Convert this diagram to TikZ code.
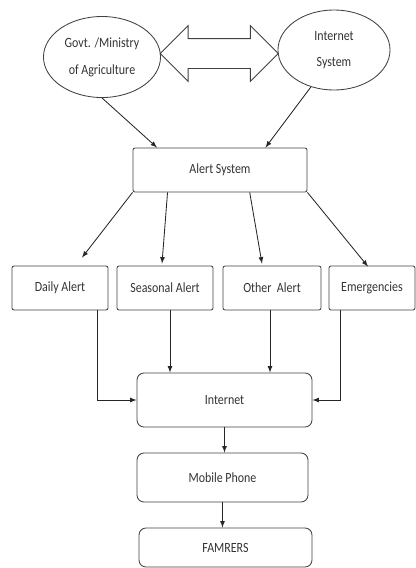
\documentclass[tikz,border=0pt]{standalone}
\usepackage{fontspec}
\setmainfont{Carlito}[FakeStretch=0.85]
\usetikzlibrary{shapes.geometric,shapes.arrows,calc}
\begin{document}
\begin{tikzpicture}[x=0.025cm,y=-0.025cm]
  \tikzset{bubble/.style={ellipse,draw=black!75,line width=0.6pt,inner sep=0pt,align=center,text=black!80},
           box/.style={rectangle,draw=black!75,line width=0.6pt,rounded corners=1.5pt,text=black!80,minimum height=1.1cm},
           rbox/.style={box,rounded corners=5pt},
           arr/.style={-latex,line width=0.6pt,draw=black!85}}
  \useasboundingbox (0,0) rectangle (416,568);
  \node[bubble,minimum width=2.925cm,minimum height=2.025cm] (gov) at (102,57) {Govt. /Ministry\\[7pt]of Agriculture};
  \node[bubble,minimum width=2.8cm,minimum height=2cm] (inet) at (334,50) {Internet\\[6pt]System};
  \node[double arrow,draw=black!75,line width=0.6pt,inner xsep=0pt,inner ysep=0.3625cm,minimum height=2.95cm,
        double arrow head extend=0.325cm] (link) at ($(gov.east)!0.5!(inet.west)$) {};
  \node[box,minimum width=4.35cm] (alert) at (220,170) {Alert System};
  \node[box,minimum width=2.4cm] (daily) at (60,288) {Daily Alert};
  \node[box,minimum width=2.4cm] (seasonal) at (165,288) {Seasonal Alert};
  \node[box,minimum width=2.45cm] (other) at (272,288) {Other~ Alert};
  \node[box,minimum width=2.15cm] (emerg) at (372,288) {Emergencies};
  \node[rbox,minimum width=4.375cm,minimum height=1.35cm] (internet) at (224.5,400) {Internet};
  \node[rbox,minimum width=4.275cm,minimum height=1.225cm] (mobile) at (222.5,477.5) {Mobile Phone};
  \node[rbox,minimum width=4.325cm,minimum height=0.975cm] (farmers) at (225.5,547.5) {FAMRERS};
  \draw[arr] (gov.south) -- ($(alert.north west)!0.14!(alert.north east)$);
  \draw[arr] (inet.238) -- ($(alert.north west)!0.76!(alert.north east)$);
  \draw[arr] (alert.south west) -- ($(daily.north)+(22,-8)$);
  \draw[arr] ($(alert.south west)!0.2!(alert.south east)$) -- ($(seasonal.north)+(-3,-2)$);
  \draw[arr] ($(alert.south west)!0.67!(alert.south east)$) -- ($(other.north)+(-10,-2)$);
  \draw[arr] (alert.south east) -- ($(emerg.north)+(-4,1)$);
  \draw[arr] ([xshift=0.925cm]daily.south) |- (internet.west);
  \draw[arr] ([xshift=-0.8cm]emerg.south) |- (internet.east);
  \draw[arr] ([xshift=0.125cm]seasonal.south) coordinate (s1) -- (s1 |- internet.north);
  \draw[arr] ([xshift=-0.05cm]other.south) coordinate (o1) -- (o1 |- internet.north);
  \draw[arr] (internet.south) -- (internet.south |- mobile.north);
  \draw[arr] (mobile.south) -- (mobile.south |- farmers.north);
\end{tikzpicture}
\end{document}
